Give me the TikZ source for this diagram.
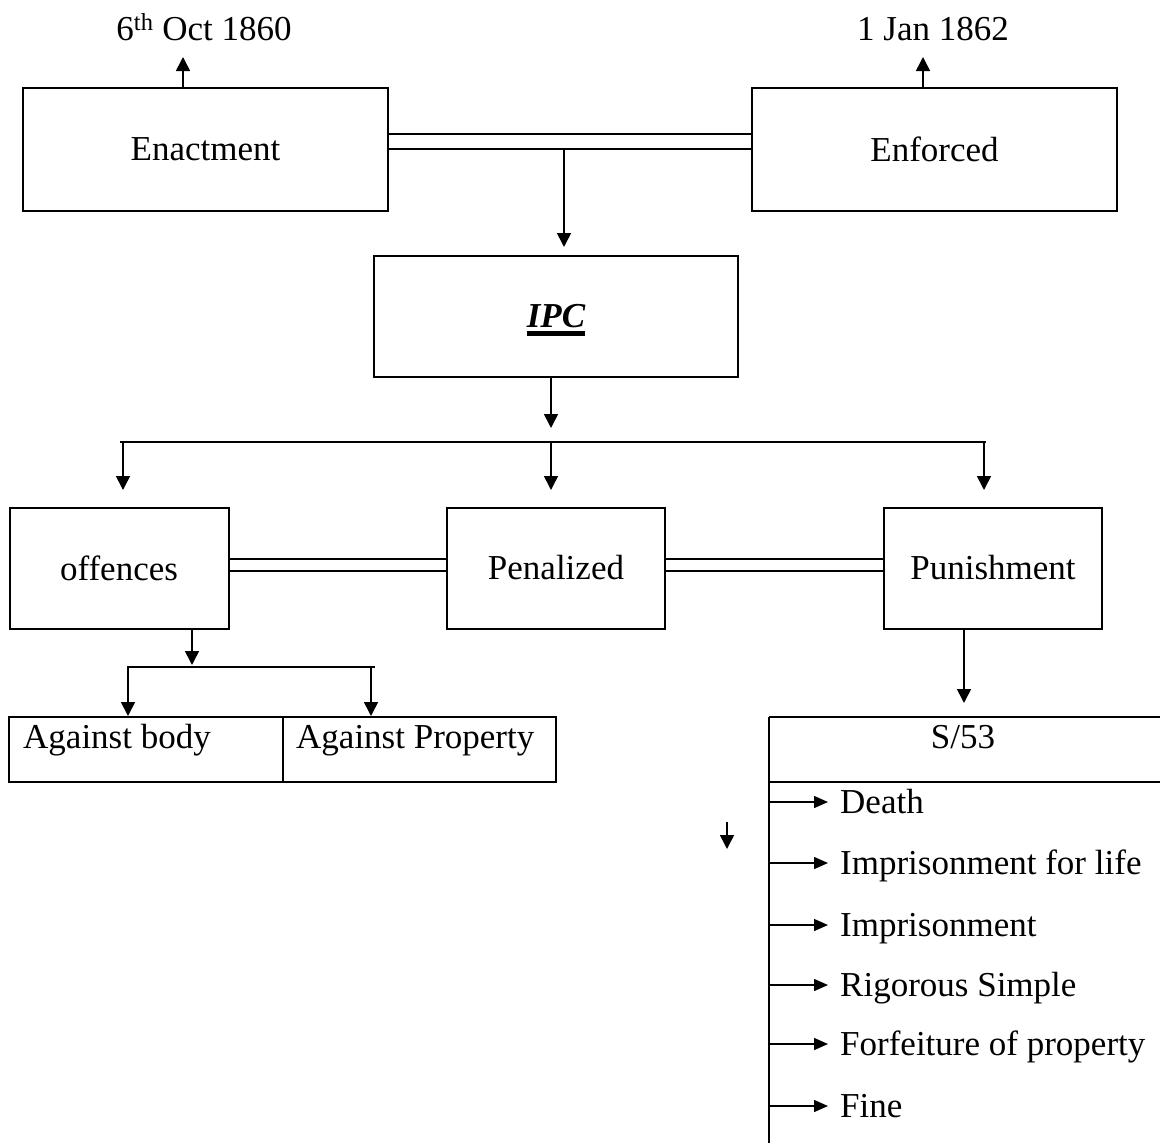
\documentclass[tikz,border=0pt]{standalone}
\usepackage{fontspec}
\setmainfont{Liberation Serif}
\usetikzlibrary{arrows.meta}
\newcommand\ipcul[1]{\setbox0\hbox{#1}\rlap{\smash{\vrule width\wd0 height -3pt depth 8pt}}\box0}
\begin{document}
\begin{tikzpicture}[x=1pt,y=-1pt,
  box/.style={draw, line width=2pt, inner sep=0pt, font=\fontsize{35}{40}\selectfont},
  txt/.style={inner sep=0pt, font=\fontsize{35}{40}\selectfont},
  item/.style={txt, anchor=west, text height=24pt, text depth=2pt},
  arr/.style={line width=1.6pt, -{Triangle[length=14pt,width=14pt]}},
  larr/.style={line width=1.4pt, -{Triangle[length=14pt,width=12pt]}, shorten >=12pt},
  ln/.style={line width=1.7pt},
  thinln/.style={line width=1.3pt},
  dbl/.style={double, line width=1.5pt},
]
\useasboundingbox (0,0) rectangle (1160,1143);

% top row
\node[txt, anchor=base] (d1860) at (204,40) {6\textsuperscript{th} Oct 1860};
\node[txt, anchor=base] (d1862) at (933,40) {1 Jan 1862};
\node[box, minimum width=365pt, minimum height=123pt] (enact) at (205.5,149.5) {Enactment};
\node[box, minimum width=365pt, minimum height=123pt] (enforce) at (934.5,149.5) {Enforced};
\coordinate (t1) at (183,57);
\coordinate (t2) at (923,57);
\draw[arr] (enact.north -| t1) -- (t1);
\draw[arr] (enforce.north -| t2) -- (t2);
\draw[dbl, double distance=13.5pt] ([yshift=8pt]enact.east) -- ([yshift=8pt]enforce.west);

% IPC
\node[box, minimum width=364pt, minimum height=121pt] (ipc) at (556,316.5) {\textbf{\textit{\ipcul{IPC}}}};
\coordinate (j1) at (564,149.8);
\coordinate (j1t) at (564,247);
\draw[arr] (j1) -- (j1t);

% branch
\coordinate (i1) at (551,428);
\draw[arr] (ipc.south -| i1) -- (i1);
\coordinate (busL) at (120,442);
\coordinate (busR) at (986,442);
\draw[ln] (busL) -- (busR);
\coordinate (b1) at (123,490);
\coordinate (b2) at (551,490);
\coordinate (b3) at (984,490);
\draw[arr] (b1 |- busL) -- (b1);
\draw[arr] (b2 |- busL) -- (b2);
\draw[arr] (b3 |- busL) -- (b3);

% second row
\node[box, minimum width=219pt, minimum height=121pt] (off) at (119,568) {offences};
\node[box, minimum width=218pt, minimum height=121pt] (pen) at (556,568) {Penalized};
\node[box, minimum width=218pt, minimum height=121pt] (pun) at (993,568) {Punishment};
\draw[dbl, double distance=10.5pt] ([yshift=3pt]off.east) -- ([yshift=3pt]pen.west);
\draw[dbl, double distance=10.5pt] ([yshift=3pt]pen.east) -- ([yshift=3pt]pun.west);

% offences branch
\coordinate (c1) at (192,665);
\draw[arr] (off.south -| c1) -- (c1);
\coordinate (cL) at (127,667);
\coordinate (cR) at (375,667);
\draw[ln] (cL) -- (cR);
\coordinate (c2) at (128,716);
\coordinate (c3) at (371,716);
\draw[arr] (c2 |- cL) -- (c2);
\draw[arr] (c3 |- cL) -- (c3);

% table
\node[box, minimum width=547pt, minimum height=65pt] (tab) at (282.5,749.5) {};
\coordinate (dv) at (283,749.5);
\draw[thinln] (tab.north -| dv) -- (tab.south -| dv);
\node[txt, anchor=base west] (tbody) at (23,748) {Against body};
\node[txt, anchor=base west] (tprop) at (296,748) {Against Property};

% punishment branch
\coordinate (p1) at (964,703);
\draw[arr] (pun.south -| p1) -- (p1);
\coordinate (sTL) at (769,717);
\coordinate (sTR) at (1161,717);
\coordinate (sBL) at (769,782);
\coordinate (sBR) at (1161,782);
\coordinate (sEnd) at (769,1144);
\draw[ln] (sTL) -- (sTR);
\draw[ln] (sBL) -- (sBR);
\draw[thinln] (sTL) -- (sEnd);
\node[txt, anchor=base] (s53) at (963,748) {S/53};

\node[item] (l1) at (840,802) {Death};
\node[item] (l2) at (840,863) {Imprisonment for life};
\node[item] (l3) at (840,925) {Imprisonment};
\node[item] (l4) at (840,985) {Rigorous Simple};
\node[item] (l5) at (840,1044) {Forfeiture of property};
\node[item] (l6) at (840,1106) {Fine};
\foreach \n in {l1,l2,l3,l4,l5,l6}
  \draw[larr] (\n.west -| sTL) -- (\n.west);

% stray arrow
\coordinate (st1) at (727,822);
\coordinate (st2) at (727,849);
\draw[arr] (st1) -- (st2);
\end{tikzpicture}
\end{document}
